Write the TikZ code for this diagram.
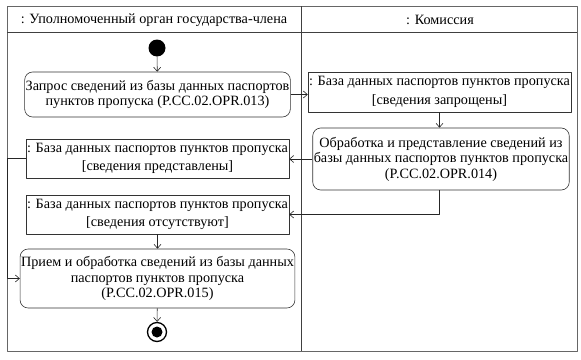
\documentclass[tikz,border=0pt]{standalone}
\usepackage{fontspec}
\newfontfamily\umlfont{LiberationSerif-Regular.ttf}
\usetikzlibrary{arrows.meta}
\begin{document}
\begin{tikzpicture}[x=1pt,y=-1pt,line join=round,>={Straight Barb[length=4pt,width=7pt]},
	font=\fontsize{14.2}{15.5}\selectfont\umlfont,
	action/.style={draw=black!80,rounded corners=8pt,align=center,inner sep=1pt,line width=0.6pt},
	objbox/.style={draw=black!80,align=center,inner sep=1pt,line width=0.6pt},
	flow/.style={->,draw=black!85,line width=0.6pt}]
	\useasboundingbox (0,0) rectangle (581,359);
	% swimlanes
	\draw[gray!80!black,line width=0.7pt] (7,6) rectangle (577,351);
	\draw[black!75,line width=0.6pt] (7,32) -- (577,32);
	\draw[black!75,line width=0.6pt] (301,6) -- (301,351);
	\node (laneA) at (154,20) {: Уполномоченный орган государства-члена};
	\node (laneB) at (440,20) {: Комиссия};
	% nodes
	\node[circle,fill=black,minimum size=17pt,inner sep=0pt] (start) at (157,48) {};
	\node[action,minimum width=255pt,minimum height=45pt] (a1) at (157.5,94.5)
		{Запрос сведений из базы данных паспортов\\пунктов пропуска (P.CC.02.OPR.013)};
	\node[objbox,minimum width=233pt,minimum height=40pt] (d1) at (439.5,92)
		{: База данных паспортов пунктов пропуска\\[3pt][сведения запрощены]};
	\node[action,minimum width=244pt,minimum height=62pt] (a2) at (441,159)
		{Обработка и представление сведений из\\базы данных паспортов пунктов пропуска\\(P.CC.02.OPR.014)};
	\node[objbox,minimum width=241pt,minimum height=39pt] (d2) at (157.5,158.5)
		{: База данных паспортов пунктов пропуска\\[3pt][сведения представлены]};
	\node[objbox,minimum width=241pt,minimum height=39pt] (d3) at (157.5,214.5)
		{: База данных паспортов пунктов пропуска\\[3pt][сведения отсутствуют]};
	\node[action,minimum width=255pt,minimum height=59pt] (a3) at (157.5,278.5)
		{Прием и обработка сведений из базы данных\\паспортов пунктов пропуска\\(P.CC.02.OPR.015)};
	\node[circle,draw=black,line width=1.3pt,minimum size=19pt,inner sep=0pt,
		path picture={\fill (path picture bounding box.center) circle (5.5pt);}] (stop) at (157,332) {};
	% flows
	\draw[flow] (start) -- (a1);
	\draw[flow] (a1.east) -- (a1.east -| d1.west);
	\draw[flow] (d1) -- (d1 |- a2.north);
	\draw[flow] (a2.west) -- (a2.west -| d2.east);
	\draw[flow] (a2.south -| d1) |- (d3.east);
	\draw[flow] (d2.west) -- ++(-18,0) |- (a3.west);
	\draw[flow] (d3) -- (a3);
	\draw[flow] (a3) -- (stop);
\end{tikzpicture}
\end{document}
